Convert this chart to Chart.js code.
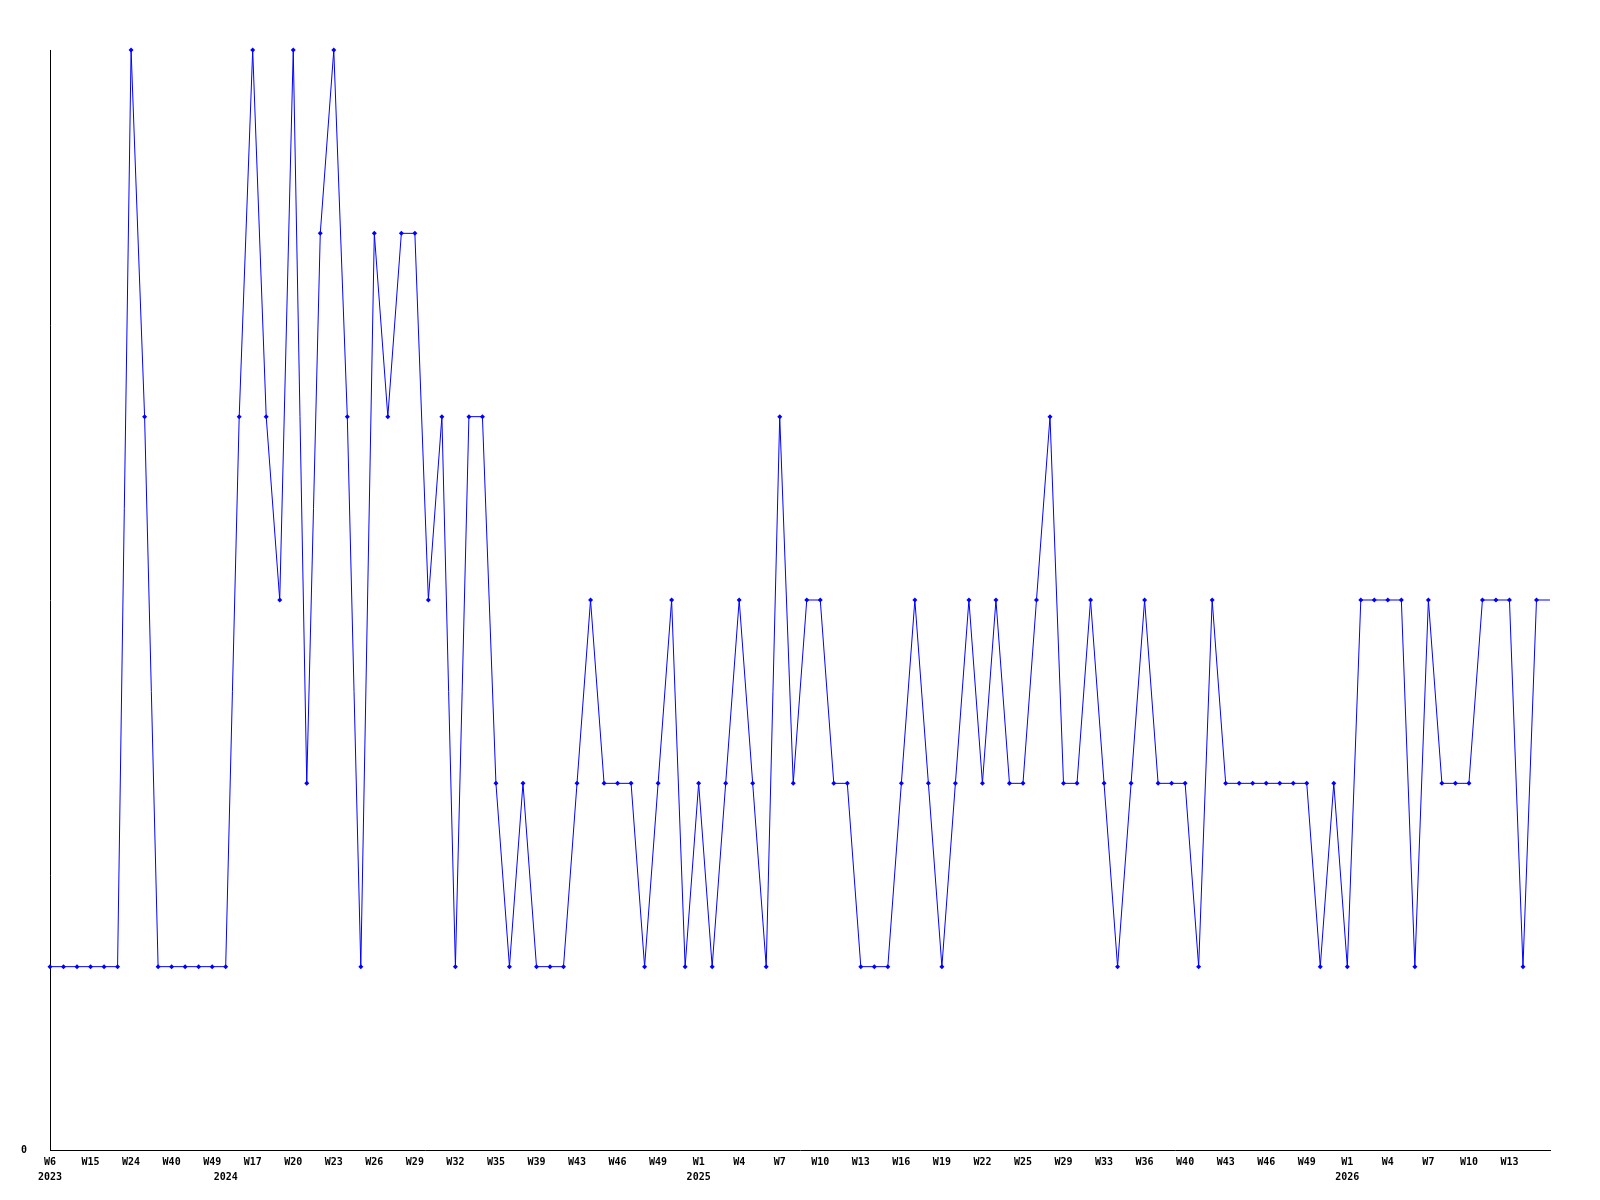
<!DOCTYPE html>
<html>
<head>
<meta charset="utf-8">
<script src="https://cdn.jsdelivr.net/npm/chart.js@4/dist/chart.umd.min.js"></script>
<style>
html,body{margin:0;padding:0;background:#fff;}
#wrap{width:1600px;height:1200px;}
</style>
</head>
<body>
<div id="wrap"><canvas id="c" width="1600" height="1200"></canvas></div>
<script>
// Week categories (one per data point)
const weeks = [
  "W6","W9","W12","W15","W18","W21","W24","W29","W35","W40","W43","W46","W49",
  "W15","W16","W17","W18","W19","W20","W21","W22","W23","W24","W25","W26","W27","W28","W29","W30","W31","W32","W33","W34","W35","W37","W38","W39","W41","W42","W43","W44","W45","W46","W47","W48","W49","W50","W52",
  "W1","W2","W3","W4","W5","W6","W7","W8","W9","W10","W11","W12","W13","W14","W15","W16","W17","W18","W19","W20","W21","W22","W23","W24","W25","W26","W27","W29","W30","W32","W33","W34","W35","W36","W37","W39","W40","W41","W42","W43","W44","W45","W46","W47","W48","W49","W50","W52",
  "W1","W2","W3","W4","W5","W6","W7","W8","W9","W10","W11","W12","W13","W14","W15","W16"
];
const years = [
  "2023","2023","2023","2023","2023","2023","2023","2023","2023","2023","2023","2023","2023",
  "2024","2024","2024","2024","2024","2024","2024","2024","2024","2024","2024","2024","2024","2024","2024","2024","2024","2024","2024","2024","2024","2024","2024","2024","2024","2024","2024","2024","2024","2024","2024","2024","2024","2024","2024",
  "2025","2025","2025","2025","2025","2025","2025","2025","2025","2025","2025","2025","2025","2025","2025","2025","2025","2025","2025","2025","2025","2025","2025","2025","2025","2025","2025","2025","2025","2025","2025","2025","2025","2025","2025","2025","2025","2025","2025","2025","2025","2025","2025","2025","2025","2025","2025","2025",
  "2026","2026","2026","2026","2026","2026","2026","2026","2026","2026","2026","2026","2026","2026","2026","2026"
];
// Values per week
const counts = [
  1,1,1,1,1,1,6,4,1,1,1,1,1,
  1,4,6,4,3,6,2,5,6,4,1,5,4,5,5,3,4,1,4,4,2,1,2,1,1,1,2,3,2,2,2,1,2,3,1,
  2,1,2,3,2,1,4,2,3,3,2,2,1,1,1,2,3,2,1,2,3,2,3,2,2,3,4,2,2,3,2,1,2,3,2,2,2,1,3,2,2,2,2,2,2,2,1,2,
  1,3,3,3,3,1,3,2,2,2,3,3,3,1,3,3
];
const yTicks = [0];
const labelEvery = 3;

const pointRadii = counts.map((v, i) => i === counts.length - 1 ? 0 : 2.5);

const font = {family: "'DejaVu Sans Mono', 'Liberation Mono', monospace", size: 10, weight: 'bold', lineHeight: 1.5};

new Chart(document.getElementById('c'), {
  type: 'line',
  data: {
    labels: weeks,
    datasets: [{
      data: counts,
      borderColor: '#0000ff',
      backgroundColor: '#0000ff',
      borderWidth: 1,
      pointStyle: 'rectRot',
      pointRadius: pointRadii,
      pointBorderWidth: 0,
      pointBackgroundColor: '#0000ff',
      tension: 0,
      fill: false,
      clip: false
    }]
  },
  options: {
    responsive: false,
    animation: false,
    devicePixelRatio: 1,
    layout: {padding: {top: 50, right: 50, left: 0, bottom: 0}},
    plugins: {legend: {display: false}, tooltip: {enabled: false}, title: {display: false}},
    scales: {
      x: {
        type: 'category',
        offset: false,
        grid: {display: false, drawTicks: false},
        border: {display: true, color: '#000', width: 1},
        afterFit: s => { s.height = 50; },
        ticks: {
          autoSkip: false,
          maxRotation: 0,
          minRotation: 0,
          padding: 5,
          color: '#000',
          font: font,
          callback: function(val, i) {
            const w = (i % labelEvery === 0 && i < weeks.length - 1) ? weeks[i] : '';
            const y = (i === 0 || years[i] !== years[i - 1]) ? years[i] : '';
            if (!w && !y) return '';
            return [w, y];
          }
        }
      },
      y: {
        min: 0,
        max: 6,
        grid: {display: false, drawTicks: false},
        border: {display: true, color: '#000', width: 1},
        afterFit: s => { s.width = 50; },
        afterBuildTicks: s => { s.ticks = yTicks.map(v => ({value: v})); },
        ticks: {
          padding: 23,
          color: '#000',
          font: font,
          callback: v => String(v)
        }
      }
    }
  }
});
</script>
</body>
</html>
